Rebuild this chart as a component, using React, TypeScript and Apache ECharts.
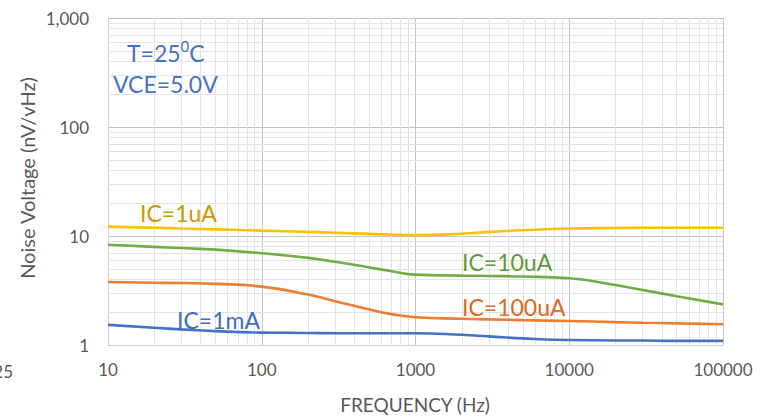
import React, { useEffect, useRef } from "react";
import * as echarts from "echarts";

const freq = [10, 20, 30, 50, 100, 200, 300, 500, 700, 1000, 2000, 3000, 5000, 10000, 20000, 30000, 50000, 100000];
const ic1uA = [12.2, 11.9, 11.7, 11.5, 11.2, 10.9, 10.7, 10.45, 10.3, 10.2, 10.5, 10.9, 11.3, 11.7, 11.85, 11.9, 11.9, 11.9];
const ic10uA = [8.3, 7.95, 7.75, 7.5, 6.95, 6.3, 5.8, 5.15, 4.75, 4.42, 4.33, 4.3, 4.25, 4.1, 3.55, 3.2, 2.8, 2.36];
const ic100uA = [3.78, 3.72, 3.7, 3.64, 3.43, 2.9, 2.52, 2.12, 1.92, 1.8, 1.74, 1.72, 1.69, 1.66, 1.62, 1.6, 1.58, 1.55];
const ic1mA = [1.53, 1.44, 1.39, 1.34, 1.3, 1.29, 1.28, 1.28, 1.28, 1.28, 1.24, 1.2, 1.15, 1.11, 1.1, 1.1, 1.09, 1.09];

const xTickLabels = ["10", "100", "1000", "10000", "100000"];
const yTickLabels = ["1", "10", "100", "1,000"];
const xDecades = [10, 100, 1000, 10000];
const yDecades = [1, 10, 100];
const minorMultipliers = [2, 3, 4, 5, 6, 7, 8, 9];

const FONT = "Lato";
const TICK_COLOR = "#595959";

export default function App() {
  const ref = useRef<HTMLDivElement>(null);
  useEffect(() => {
    document.body.style.margin = "0";
    if (!ref.current) return;
    const chart = echarts.init(ref.current, undefined, { renderer: "svg" });
    const pair = (ys: number[]) => freq.map((f, i) => [f, ys[i]]);
    const minorX: any[] = [];
    xDecades.forEach((d) => minorMultipliers.forEach((m) => minorX.push({ xAxis: d * m })));
    const minorY: any[] = [];
    yDecades.forEach((d) => minorMultipliers.forEach((m) => minorY.push({ yAxis: d * m })));
    const lineSeries = (name: string, ys: number[], color: string) => ({
      name,
      type: "line",
      data: pair(ys),
      smooth: 0.5,
      showSymbol: false,
      symbol: "none",
      lineStyle: { color, width: 2.6 },
      z: 5,
    });
    const label = (text: string, x: number, y: number, fill: string) => ({
      type: "text",
      x,
      y,
      z: 100,
      style: { text, fontFamily: FONT, fontSize: 23, fill, textVerticalAlign: "middle" },
    });
    chart.setOption({
      animation: false,
      grid: { left: 108, right: 47, top: 18, bottom: 73 },
      xAxis: {
        type: "log",
        logBase: 10,
        min: 10,
        max: 100000,
        axisLine: { show: true, lineStyle: { color: "#D0D0D0", width: 1 } },
        axisTick: { show: false },
        splitLine: { show: true, lineStyle: { color: "#C4C4C4", width: 1 } },
        axisLabel: {
          color: TICK_COLOR,
          fontFamily: FONT,
          fontSize: 17,
          margin: 16,
          formatter: (v: number) => {
            const i = Math.round(Math.log10(v)) - 1;
            return xTickLabels[i] ?? "";
          },
        },
      },
      yAxis: {
        type: "log",
        logBase: 10,
        min: 1,
        max: 1000,
        axisLine: { show: true, lineStyle: { color: "#D0D0D0", width: 1 } },
        axisTick: { show: false },
        splitLine: { show: true, lineStyle: { color: "#C4C4C4", width: 1 } },
        axisLabel: {
          color: TICK_COLOR,
          fontFamily: FONT,
          fontSize: 17,
          margin: 19,
          formatter: (v: number) => {
            const i = Math.round(Math.log10(v));
            return yTickLabels[i] ?? "";
          },
        },
      },
      series: [
        {
          type: "line",
          data: [],
          silent: true,
          markLine: {
            silent: true,
            symbol: ["none", "none"],
            label: { show: false },
            lineStyle: { color: "#E3E3E3", width: 1, type: "solid" },
            data: [...minorX, ...minorY],
          },
          z: 1,
        },
        lineSeries("IC=1uA", ic1uA, "#FFC000"),
        lineSeries("IC=10uA", ic10uA, "#70AD47"),
        lineSeries("IC=100uA", ic100uA, "#ED7D31"),
        lineSeries("IC=1mA", ic1mA, "#4472C4"),
      ],
      graphic: [
        {
          type: "text",
          x: 27,
          y: 178,
          z: 100,
          rotation: Math.PI / 2,
          style: {
            text: "Noise Voltage (nV/vHz)",
            fontFamily: FONT,
            fontSize: 20,
            fill: TICK_COLOR,
            textAlign: "center",
            textVerticalAlign: "middle",
          },
        },
        {
          type: "text",
          x: 415,
          y: 404,
          z: 100,
          style: {
            text: "FREQUENCY (Hz)",
            fontFamily: FONT,
            fontSize: 19,
            fill: TICK_COLOR,
            textAlign: "center",
            textVerticalAlign: "middle",
          },
        },
        {
          type: "text",
          x: 13,
          y: 371,
          z: 100,
          style: {
            text: "25",
            fontFamily: FONT,
            fontSize: 17,
            fill: TICK_COLOR,
            textAlign: "right",
            textVerticalAlign: "middle",
          },
        },
        {
          type: "text",
          x: 127,
          y: 51,
          z: 100,
          style: {
            text: "{a|T=25}{s|0}{a|C}",
            fill: "#4472C4",
            textVerticalAlign: "middle",
            rich: {
              a: { fontFamily: FONT, fontSize: 23, fill: "#4472C4", verticalAlign: "bottom", lineHeight: 26 },
              s: { fontFamily: FONT, fontSize: 15, fill: "#4472C4", verticalAlign: "top", lineHeight: 26, padding: [0, 0, 8, 0] },
            },
          },
        },
        label("VCE=5.0V", 113, 84, "#4472C4"),
        label("IC=1uA", 140, 213, "#C99A00"),
        label("IC=10uA", 462, 262, "#5E9A3B"),
        label("IC=100uA", 462, 307, "#D96A24"),
        label("IC=1mA", 177, 320, "#3F6EBF"),
      ],
    });
    return () => chart.dispose();
  }, []);
  return <div ref={ref} style={{ width: 770, height: 418 }} />;
}
